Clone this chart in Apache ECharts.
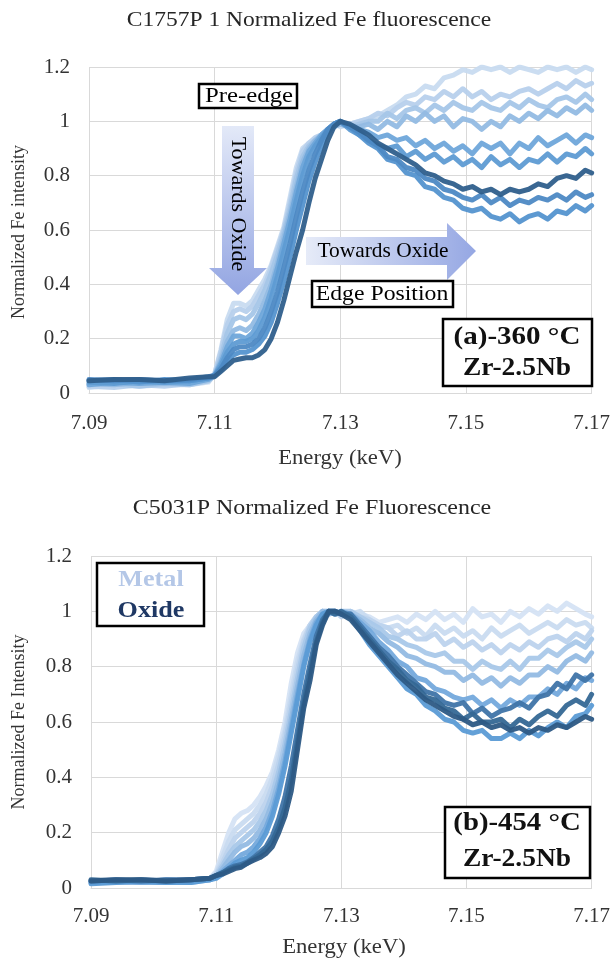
<!DOCTYPE html>
<html><head><meta charset="utf-8">
<script src="https://cdn.jsdelivr.net/npm/echarts@6/dist/echarts.min.js"></script>
<style>html,body{margin:0;padding:0;background:#fff}#c{width:613px;height:961px}</style>
</head><body><div id="c"></div>
<script>
// Energy grid (keV), shared by both panels
const energy = [7.090,7.094,7.098,7.102,7.106,7.109,7.110,7.111,7.112,7.113,7.114,7.115,7.116,7.117,7.118,7.119,7.120,7.121,7.122,7.123,7.124,7.125,7.126,7.127,7.128,7.129,7.130,7.1315,7.133,7.1345,7.136,7.1375,7.139,7.1405,7.142,7.1435,7.145,7.1465,7.148,7.1495,7.151,7.1525,7.154,7.1555,7.157,7.1585,7.160,7.1615,7.163,7.1645,7.166,7.1675,7.169,7.170];

const xTickLabels = ['7.09','7.11','7.13','7.15','7.17'];
const yTickLabels = ['0','0.2','0.4','0.6','0.8','1','1.2'];

// Panel (a) C1757P 1 - 360 °C, light (metal) to dark (oxide)
const a1 = [0.02,0.03,0.025,0.03,0.03,0.04,0.07,0.16,0.27,0.33,0.33,0.32,0.34,0.38,0.42,0.47,0.54,0.61,0.72,0.83,0.9,0.92,0.93,0.95,0.97,0.99,0.98,0.99,1.0,1.01,1.02,1.04,1.06,1.09,1.1,1.13,1.12,1.16,1.17,1.19,1.18,1.2,1.19,1.2,1.18,1.2,1.19,1.18,1.2,1.19,1.2,1.18,1.2,1.19];
const a2 = [0.025,0.02,0.03,0.025,0.035,0.045,0.07,0.15,0.25,0.3,0.31,0.3,0.32,0.36,0.4,0.46,0.53,0.6,0.7,0.81,0.89,0.92,0.94,0.95,0.97,0.98,0.99,0.99,1.0,1.01,1.03,1.02,1.05,1.07,1.06,1.09,1.08,1.11,1.09,1.12,1.09,1.11,1.08,1.1,1.09,1.11,1.12,1.1,1.12,1.14,1.12,1.15,1.13,1.14];
const a3 = [0.03,0.035,0.025,0.035,0.03,0.045,0.065,0.13,0.22,0.27,0.28,0.27,0.29,0.33,0.38,0.44,0.51,0.59,0.68,0.79,0.87,0.91,0.93,0.95,0.96,0.98,0.99,0.98,0.99,1.0,1.0,1.03,1.01,1.04,1.05,1.03,1.06,1.04,1.07,1.05,1.04,1.07,1.05,1.04,1.07,1.05,1.08,1.06,1.05,1.08,1.09,1.07,1.1,1.08];
const a4 = [0.035,0.03,0.04,0.035,0.04,0.05,0.065,0.12,0.19,0.23,0.24,0.23,0.25,0.29,0.34,0.4,0.48,0.57,0.66,0.76,0.85,0.9,0.93,0.95,0.97,0.98,0.99,0.98,0.98,0.99,0.97,1.0,0.98,1.02,1.0,1.03,1.0,1.02,0.98,1.01,1.0,0.97,1.0,0.98,1.02,1.0,1.03,1.01,1.04,1.02,1.05,1.03,1.06,1.04];
const a5 = [0.03,0.04,0.035,0.04,0.035,0.05,0.065,0.11,0.17,0.21,0.21,0.2,0.22,0.26,0.31,0.38,0.46,0.55,0.64,0.74,0.83,0.89,0.92,0.95,0.97,0.99,1.0,0.98,0.97,0.96,0.94,0.95,0.93,0.94,0.91,0.93,0.9,0.92,0.89,0.91,0.88,0.92,0.9,0.92,0.88,0.92,0.9,0.94,0.91,0.93,0.95,0.92,0.95,0.94];
const a6 = [0.04,0.035,0.045,0.04,0.045,0.055,0.065,0.1,0.15,0.18,0.19,0.19,0.2,0.23,0.28,0.35,0.43,0.52,0.61,0.71,0.8,0.87,0.91,0.94,0.97,0.99,1.0,0.97,0.95,0.93,0.91,0.9,0.91,0.87,0.89,0.86,0.88,0.85,0.87,0.84,0.86,0.83,0.87,0.84,0.86,0.83,0.86,0.85,0.88,0.85,0.88,0.87,0.9,0.88];
const a7 = [0.045,0.05,0.04,0.05,0.045,0.055,0.065,0.085,0.12,0.14,0.15,0.15,0.16,0.18,0.21,0.26,0.33,0.41,0.5,0.6,0.69,0.78,0.85,0.91,0.96,0.99,1.0,0.98,0.95,0.92,0.9,0.86,0.85,0.81,0.8,0.76,0.75,0.72,0.71,0.68,0.67,0.68,0.65,0.64,0.66,0.63,0.65,0.66,0.64,0.67,0.66,0.69,0.67,0.69];
const a8 = [0.05,0.045,0.05,0.045,0.05,0.06,0.065,0.09,0.13,0.16,0.17,0.17,0.18,0.2,0.24,0.3,0.37,0.46,0.55,0.65,0.74,0.82,0.88,0.93,0.97,0.99,1.0,0.98,0.96,0.93,0.91,0.87,0.86,0.83,0.82,0.79,0.78,0.75,0.74,0.72,0.71,0.73,0.7,0.72,0.69,0.71,0.7,0.72,0.71,0.73,0.71,0.74,0.72,0.73];
const a9 = [0.045,0.05,0.05,0.045,0.055,0.06,0.06,0.08,0.1,0.12,0.125,0.13,0.13,0.14,0.16,0.2,0.26,0.34,0.43,0.52,0.6,0.7,0.79,0.86,0.93,0.98,1.0,0.99,0.97,0.95,0.92,0.9,0.88,0.86,0.84,0.81,0.8,0.78,0.77,0.75,0.76,0.74,0.75,0.73,0.75,0.74,0.75,0.77,0.76,0.79,0.8,0.79,0.82,0.81];
const seriesA = [a1,a2,a3,a4,a5,a6,a7,a8,a9];
const colorsA = ['#c8dbf0','#b7d0ec','#a5c6e8','#92bae3','#6fa6da','#5e9bd3','#5494cf','#4d89c4','#2f5f8c'];

// Panel (b) C5031P - 454 °C
const b1 = [0.02,0.025,0.02,0.03,0.025,0.035,0.06,0.13,0.2,0.25,0.27,0.28,0.3,0.33,0.37,0.42,0.5,0.6,0.74,0.85,0.92,0.95,0.98,1.0,0.99,1.0,0.99,1.0,0.99,0.98,0.96,0.97,0.98,0.96,0.99,0.97,1.0,0.97,0.99,0.96,1.01,0.98,0.99,0.96,1.0,0.98,1.01,0.99,1.02,1.0,1.03,1.01,0.99,0.98];
const b2 = [0.025,0.02,0.03,0.02,0.03,0.035,0.05,0.11,0.17,0.21,0.23,0.25,0.27,0.3,0.34,0.4,0.48,0.57,0.7,0.82,0.9,0.95,0.98,1.0,1.0,0.99,1.0,0.99,1.0,0.97,0.95,0.94,0.95,0.92,0.94,0.91,0.95,0.92,0.94,0.91,0.93,0.9,0.94,0.91,0.93,0.95,0.92,0.94,0.96,0.94,0.97,0.95,0.96,0.94];
const b3 = [0.02,0.03,0.025,0.02,0.03,0.035,0.05,0.09,0.14,0.18,0.2,0.22,0.24,0.27,0.31,0.37,0.45,0.55,0.67,0.79,0.89,0.95,0.98,1.0,0.99,1.0,0.98,1.0,0.98,0.97,0.95,0.94,0.91,0.93,0.9,0.9,0.92,0.88,0.9,0.87,0.89,0.86,0.88,0.85,0.88,0.86,0.89,0.87,0.9,0.91,0.89,0.92,0.9,0.93];
const b4 = [0.02,0.02,0.03,0.025,0.02,0.03,0.045,0.08,0.12,0.15,0.17,0.19,0.21,0.24,0.28,0.34,0.42,0.52,0.64,0.76,0.87,0.94,0.98,1.0,1.0,0.99,1.0,1.0,0.98,0.96,0.94,0.91,0.9,0.88,0.87,0.85,0.84,0.85,0.82,0.82,0.79,0.82,0.8,0.79,0.82,0.79,0.83,0.83,0.86,0.84,0.87,0.89,0.87,0.9];
const b5 = [0.025,0.02,0.02,0.03,0.025,0.03,0.04,0.07,0.1,0.13,0.15,0.16,0.18,0.21,0.25,0.31,0.39,0.49,0.61,0.73,0.84,0.92,0.97,1.0,0.99,1.0,0.99,0.99,0.97,0.94,0.92,0.89,0.87,0.84,0.83,0.81,0.8,0.78,0.78,0.75,0.77,0.74,0.76,0.73,0.76,0.74,0.77,0.77,0.8,0.78,0.82,0.84,0.82,0.85];
const b6 = [0.02,0.025,0.02,0.02,0.03,0.03,0.04,0.06,0.08,0.1,0.12,0.13,0.15,0.18,0.22,0.28,0.36,0.46,0.58,0.7,0.81,0.9,0.96,0.99,1.0,0.99,1.0,0.99,0.96,0.93,0.89,0.86,0.82,0.8,0.76,0.75,0.72,0.71,0.69,0.68,0.69,0.66,0.68,0.65,0.68,0.66,0.69,0.69,0.72,0.7,0.74,0.72,0.76,0.75];
const b7 = [0.015,0.02,0.025,0.02,0.02,0.03,0.035,0.05,0.07,0.09,0.1,0.11,0.13,0.16,0.2,0.26,0.34,0.44,0.56,0.68,0.8,0.89,0.95,0.99,1.0,1.0,0.99,0.98,0.93,0.88,0.84,0.8,0.76,0.72,0.7,0.66,0.64,0.61,0.6,0.57,0.56,0.57,0.54,0.54,0.56,0.54,0.57,0.55,0.58,0.6,0.58,0.62,0.63,0.66];
const b8 = [0.025,0.03,0.025,0.03,0.03,0.035,0.045,0.055,0.07,0.08,0.085,0.095,0.11,0.13,0.15,0.19,0.25,0.33,0.44,0.57,0.7,0.81,0.91,0.97,1.0,1.0,0.99,0.99,0.95,0.91,0.87,0.84,0.8,0.77,0.74,0.71,0.7,0.67,0.66,0.67,0.63,0.65,0.62,0.64,0.65,0.67,0.65,0.69,0.7,0.74,0.72,0.77,0.75,0.77];
const b9 = [0.03,0.025,0.03,0.025,0.03,0.035,0.045,0.055,0.065,0.075,0.08,0.09,0.105,0.12,0.14,0.17,0.22,0.29,0.39,0.53,0.67,0.78,0.89,0.96,1.0,0.99,1.0,0.98,0.94,0.9,0.86,0.82,0.79,0.75,0.73,0.69,0.68,0.65,0.64,0.61,0.63,0.6,0.6,0.61,0.58,0.61,0.59,0.62,0.64,0.62,0.66,0.68,0.66,0.7];
const b10 = [0.025,0.03,0.03,0.025,0.03,0.035,0.045,0.05,0.06,0.07,0.075,0.09,0.1,0.11,0.125,0.15,0.2,0.26,0.35,0.5,0.65,0.75,0.88,0.95,1.0,1.0,0.99,0.97,0.93,0.89,0.85,0.81,0.77,0.74,0.71,0.68,0.66,0.64,0.62,0.61,0.59,0.6,0.58,0.59,0.57,0.58,0.56,0.58,0.57,0.59,0.58,0.6,0.62,0.61];
const seriesB = [b1,b2,b3,b4,b5,b6,b7,b8,b9,b10];
const colorsB = ['#d5e3f4','#c9dbf0','#bdd3ed','#a9c8e9','#94bbe3','#74a9dc','#5b9bd5','#3f74a8','#356895','#2d5a85'];

const SERIF = '"Liberation Serif","Times New Roman",serif';
const chart = echarts.init(document.getElementById('c'), null, {renderer:'canvas'});

function mkSeries(vals, color, idx, k) {
  return {
    type:'line', xAxisIndex:idx, yAxisIndex:idx, symbol:'none', silent:true, z:2+k,
    data: energy.map((e,i)=>[e, vals[i]]),
    lineStyle:{color:color, width:5, opacity:0.95, join:'round', cap:'round'}
  };
}
function xAxis(idx){
  return {gridIndex:idx, type:'value', min:7.09, max:7.17, interval:0.02,
    axisLine:{lineStyle:{color:'#d9d9d9'}}, axisTick:{show:false},
    splitLine:{show:true, lineStyle:{color:'#d9d9d9', width:1}},
    axisLabel:{color:'#333', fontFamily:SERIF, fontSize:21, margin:idx===0?20:18,
      formatter:v=>xTickLabels[Math.round((v-7.09)/0.02)] ?? v.toFixed(2)}};
}
function yAxis(idx){
  return {gridIndex:idx, type:'value', min:0, max:1.2, interval:0.2,
    axisLine:{show:false}, axisTick:{show:false},
    splitLine:{show:true, lineStyle:{color:'#d9d9d9', width:1}},
    axisLabel:{color:'#333', fontFamily:SERIF, fontSize:21, margin:19,
      formatter:v=>yTickLabels[Math.round(v/0.2)]}};
}
function txt(x,y,text,font,fill,sx,rot){
  return {type:'text', x:x, y:y, z:100, scaleX:sx||1, rotation:rot||0,
    style:{text:text, fill:fill||'#000', font:font+' '+SERIF, textAlign:'center', textVerticalAlign:'middle'}};
}
function box(x,y,w,h){
  return {type:'rect', z:90, shape:{x:x,y:y,width:w,height:h}, style:{fill:'#fff', stroke:'#000', lineWidth:2.5}};
}

const series = [];
seriesA.forEach((s,k)=>series.push(mkSeries(s, colorsA[k], 0, k)));
seriesB.forEach((s,k)=>series.push(mkSeries(s, colorsB[k], 1, k)));

const graphic = [
  txt(309,20,'C1757P 1 Normalized Fe fluorescence','21px','#262626',1.12),
  txt(312,508,'C5031P Normalized Fe Fluorescence','21px','#262626',1.14),
  {type:'text', x:19, y:232, z:100, rotation:Math.PI/2, style:{text:'Normalized Fe intensity', fill:'#333', font:'18px '+SERIF, textAlign:'center', textVerticalAlign:'middle'}},
  {type:'text', x:19, y:722, z:100, rotation:Math.PI/2, style:{text:'Normalized Fe Intensity', fill:'#333', font:'18px '+SERIF, textAlign:'center', textVerticalAlign:'middle'}},
  txt(340,458,'Energy (keV)','21px','#333',1.08),
  txt(344,947,'Energy (keV)','21px','#333',1.08),
  // panel a annotations
  box(199,84,98,24), txt(249,96,'Pre-edge','21px','#000',1.18),
  {type:'polygon', z:80, shape:{points:[[222,126],[254,126],[254,268],[267,268],[238,295],[209,268],[222,268]]},
    style:{fill:new echarts.graphic.LinearGradient(0,0,0,1,[{offset:0,color:'#e3e9f8'},{offset:1,color:'#93a5e2'}])}},
  txt(238,204,'Towards Oxide','22px','#000',1,-Math.PI/2),
  {type:'polygon', z:80, shape:{points:[[306,237],[447,237],[447,223],[476,251],[447,280],[447,265],[306,265]]},
    style:{fill:new echarts.graphic.LinearGradient(0,0,1,0,[{offset:0,color:'#e6ebf8'},{offset:1,color:'#95a7e3'}])}},
  txt(383,251,'Towards Oxide','21px','#000',1.02),
  box(312,281,141,26), txt(382,294,'Edge Position','21px','#000',1.13),
  box(443,319,149,67),
  txt(517,338,'(a)-360 °C','bold 25px','#111',1.16),
  txt(517,369,'Zr-2.5Nb','bold 25px','#111',1.1),
  // panel b annotations
  box(97,563,107,63),
  txt(151,580,'Metal','bold 24px','#b4c7e7',1.09),
  txt(151,611,'Oxide','bold 24px','#1f3864',1.09),
  box(445,807,145,71),
  txt(517,824,'(b)-454 °C','bold 25px','#111',1.15),
  txt(517,860,'Zr-2.5Nb','bold 25px','#111',1.1)
];

chart.setOption({
  animation:false,
  backgroundColor:'#fff',
  grid:[{left:89, top:67, width:504, height:326},{left:91, top:556, width:508, height:332}],
  xAxis:[xAxis(0), xAxis(1)],
  yAxis:[yAxis(0), yAxis(1)],
  series:series,
  graphic:graphic
});
</script></body></html>
